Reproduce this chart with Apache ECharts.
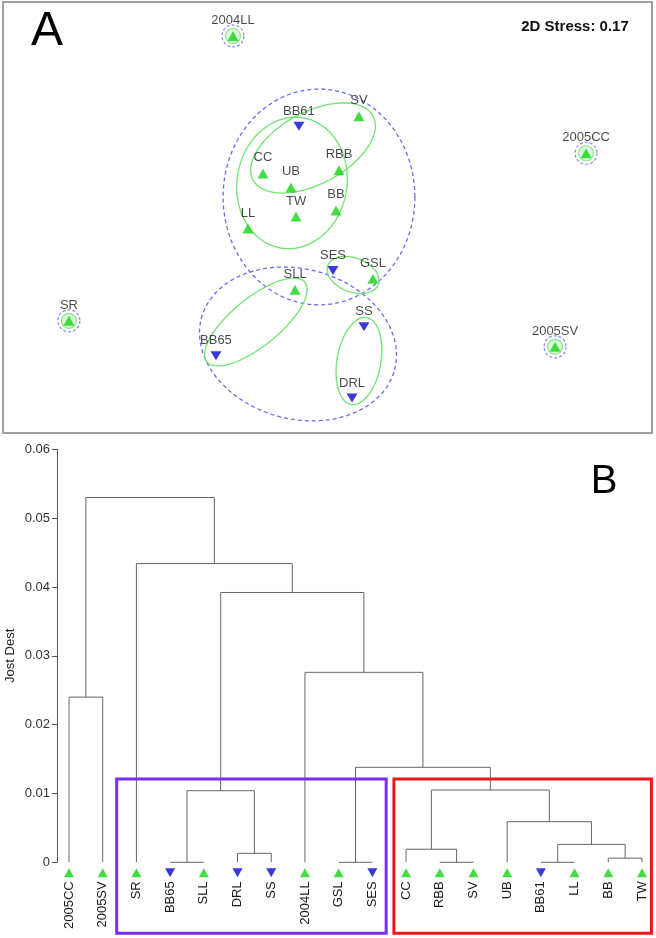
<!DOCTYPE html>
<html><head><meta charset="utf-8">
<script src="https://cdn.jsdelivr.net/npm/echarts@6/dist/echarts.min.js"></script>
<style>html,body{margin:0;padding:0;background:#fff}#c{width:656px;height:938px}</style>
</head><body><div id="c"></div>
<script>
// ---------- Panel A : NMDS ordination ----------
const sites = ['2004LL','SV','BB61','2005CC','CC','RBB','UB','TW','BB','LL','SES','GSL','SLL','SR','SS','BB65','2005SV','DRL'];
const nmdsX = [-0.466,0.155,-0.141,1.275,-0.318,0.057,-0.180,-0.155,0.042,-0.392,0.027,0.224,-0.160,-1.275,0.180,-0.550,1.122,0.121];
const nmdsY = [0.893,0.498,0.449,0.316,0.217,0.232,0.148,0.005,0.035,-0.054,-0.261,-0.301,-0.355,-0.508,-0.537,-0.680,-0.636,-0.888];
const downSites = ['BB61','SES','SS','BB65','DRL'];
const singletons = ['2004LL','2005CC','SR','2005SV'];
// ellipses: centre x, centre y, semi-axis a, semi-axis b, angle (deg)
const greenEllipses = [
  [-0.175,0.170,0.325,0.271,80],
  [-0.0715,0.342,0.335,0.177,28],
  [0.126,-0.283,0.133,0.084,-20],
  [-0.353,-0.514,0.311,0.118,39],
  [0.155,-0.706,0.217,0.108,80]
];
const blueEllipses = [
  [-0.042,0.101,0.473,0.531,0],
  [-0.1455,-0.622,0.493,0.369,-15]
];
const stressText = '2D Stress: 0.17';

// ---------- Panel B : dendrogram ----------
const leaves = ['2005CC','2005SV','SR','BB65','SLL','DRL','SS','2004LL','GSL','SES','CC','RBB','SV','UB','BB61','LL','BB','TW'];
const mergeLeft   = ['BB65','DRL','GSL','RBB','BB61','BB','CC','m5','UB','m7','m3','2004LL','m1','m13','SR','2005CC','m16'];
const mergeRight  = ['SLL','SS','SES','SV','LL','TW','m4','m6','m8','m9','m10','m11','m2','m12','m14','2005SV','m15'];
const mergeHeight = [0.0,0.0013,0.0,0.0,0.0,0.0006,0.0019,0.0026,0.0059,0.0105,0.0138,0.0276,0.0104,0.0392,0.0434,0.024,0.053];
const yTicks = [0,0.01,0.02,0.03,0.04,0.05,0.06];
const boxFirst = ['SR','CC'];
const boxLast = ['SES','TW'];

const GREEN = '#14d414', BLUE = '#0808c8';
const FONT = 'Liberation Sans, Arial, sans-serif';
const downPath = 'path://M0,0L10,0L5,9Z';

// dendrogram geometry from merge table
const pos = {};
leaves.forEach((n,i)=>pos[n]={x:i,h:0});
mergeLeft.forEach((l,k)=>{const a=pos[l],b=pos[mergeRight[k]];pos['m'+(k+1)]={x:(a.x+b.x)/2,h:mergeHeight[k]};});
const segs = mergeLeft.map((l,k)=>{const a=pos[l],b=pos[mergeRight[k]];return [a.x,a.h,b.x,b.h,mergeHeight[k]];});

function ellipseRender(stroke, dash){
  return function(params, api){
    const cx=api.value(0), cy=api.value(1), a=api.value(2), b=api.value(3), ang=api.value(4)*Math.PI/180;
    const pts=[];
    for(let i=0;i<96;i++){
      const t=i/96*2*Math.PI, ex=a*Math.cos(t), ey=b*Math.sin(t);
      pts.push(api.coord([cx+ex*Math.cos(ang)-ey*Math.sin(ang), cy+ex*Math.sin(ang)+ey*Math.cos(ang)]));
    }
    return {type:'polygon', shape:{points:pts}, style:{fill:'none', stroke:stroke, lineWidth:1.3, lineDash:dash}};
  };
}

const siteData = sites.map((s,i)=>{
  const down = downSites.includes(s);
  return {name:s, value:[nmdsX[i],nmdsY[i]], symbol: down?downPath:'triangle',
    symbolSize: down?[11,9]:[11,10], itemStyle:{color: down?BLUE:GREEN}};
});
const singleData = singletons.map(s=>{const i=sites.indexOf(s);return [nmdsX[i],nmdsY[i]];});

const leafData = leaves.map((n,i)=>{
  const down = downSites.includes(n);
  return {name:n, value:[i,0], symbol: down?downPath:'triangle', symbolSize:[10,9], itemStyle:{color: down?BLUE:GREEN}};
});
const boxData = boxFirst.map((f,k)=>[leaves.indexOf(f), leaves.indexOf(boxLast[k])]);
const boxColors = ['#7a2cf2','#e81818'];
const boxPadL = [0.585,0.36], boxPadR = [0.41,0.28];

const chart = echarts.init(document.getElementById('c'), null, {renderer:'canvas'});
chart.setOption({
  animation:false,
  backgroundColor:'#fff',
  textStyle:{fontFamily:FONT},
  grid:[
    {left:3, top:2, width:649, height:431, show:true, borderColor:'#a0a0a0', borderWidth:2, backgroundColor:'transparent', containLabel:false, outerBoundsMode:'none'},
    {left:69, top:449.3, width:573, height:413, containLabel:false, outerBoundsMode:'none'},
    {left:57, top:449.3, width:585, height:413, containLabel:false, outerBoundsMode:'none'}
  ],
  xAxis:[
    {gridIndex:0, type:'value', min:-1.6, max:1.6, show:false},
    {gridIndex:1, type:'value', min:0, max:17, interval:1,
      axisLine:{show:false}, axisTick:{show:false}, splitLine:{show:false},
      axisLabel:{rotate:90, margin:19, fontSize:13, color:'#1a1a1a', fontFamily:FONT,
        showMinLabel:true, showMaxLabel:true, hideOverlap:false,
        formatter:v=>leaves[Math.round(v)]||''}},
    {gridIndex:2, type:'value', min:0, max:1, show:false}
  ],
  yAxis:[
    {gridIndex:0, type:'value', min:-1.06, max:1.06, show:false},
    {gridIndex:1, type:'value', min:0, max:0.06, show:false},
    {gridIndex:2, type:'value', min:0, max:0.06, interval:0.01,
      axisLine:{show:true, lineStyle:{color:'#555', width:1}},
      axisTick:{show:true, length:5, lineStyle:{color:'#555'}},
      splitLine:{show:false},
      axisLabel:{fontSize:13, color:'#333', margin:7, fontFamily:FONT,
        formatter:v=>{const t=yTicks.find(x=>Math.abs(x-v)<1e-9);return t===undefined?'':String(t);}},
      name:'Jost Dest', nameLocation:'middle', nameRotate:90, nameGap:40, nameMoveOverlap:false,
      nameTextStyle:{fontSize:13, color:'#222', fontFamily:FONT}}
  ],
  graphic:[
    {type:'text', x:47, y:32, style:{text:'A', fontSize:48, fontFamily:FONT, fill:'#000', align:'center', verticalAlign:'middle'}},
    {type:'text', x:575, y:27, style:{text:stressText, fontSize:15, fontWeight:'bold', fontFamily:FONT, fill:'#111', align:'center', verticalAlign:'middle'}},
    {type:'text', x:604, y:482, style:{text:'B', fontSize:40, fontFamily:FONT, fill:'#000', align:'center', verticalAlign:'middle'}}
  ],
  series:[
    {type:'custom', xAxisIndex:0, yAxisIndex:0, silent:true, z:1, data:blueEllipses, renderItem:ellipseRender('#6b6bec',[4,3])},
    {type:'custom', xAxisIndex:0, yAxisIndex:0, silent:true, z:2, data:greenEllipses, renderItem:ellipseRender('#6fe46f',null)},
    {type:'scatter', xAxisIndex:0, yAxisIndex:0, silent:true, z:2, data:singleData, symbol:'circle', symbolSize:22,
      itemStyle:{color:'transparent', borderColor:'#6b6bec', borderWidth:1.2, borderType:[3,2]}},
    {type:'scatter', xAxisIndex:0, yAxisIndex:0, silent:true, z:2, data:singleData, symbol:'circle', symbolSize:15,
      itemStyle:{color:'rgba(140,240,140,0.35)', borderColor:'#6fe46f', borderWidth:1.2}},
    {type:'scatter', xAxisIndex:0, yAxisIndex:0, silent:true, z:5, data:siteData,
      label:{show:true, position:'top', distance:4, formatter:'{b}', fontSize:13, color:'#1a1a1a', fontFamily:FONT}},
    {type:'custom', xAxisIndex:1, yAxisIndex:1, silent:true, z:3, data:segs,
      renderItem:(params, api)=>{
        const p1=api.coord([api.value(0),api.value(1)]), p2=api.coord([api.value(0),api.value(4)]),
              p3=api.coord([api.value(2),api.value(4)]), p4=api.coord([api.value(2),api.value(3)]);
        return {type:'polyline', shape:{points:[p1,p2,p3,p4]}, style:{stroke:'#666', lineWidth:1, fill:'none'}};
      }},
    {type:'custom', xAxisIndex:1, yAxisIndex:1, silent:true, z:4, data:boxData,
      renderItem:(params, api)=>{
        const k=params.dataIndex;
        const tl=api.coord([api.value(0)-boxPadL[k], 0.0121]);
        const br=api.coord([api.value(1)+boxPadR[k], 0]);
        const bottom = br[1]+71;
        return {type:'rect', shape:{x:tl[0], y:tl[1], width:br[0]-tl[0], height:bottom-tl[1]},
          style:{fill:'none', stroke:boxColors[k], lineWidth:3}};
      }},
    {type:'scatter', xAxisIndex:1, yAxisIndex:1, silent:true, z:5, data:leafData, symbolOffset:[0,10.5]}
  ]
});
</script></body></html>
